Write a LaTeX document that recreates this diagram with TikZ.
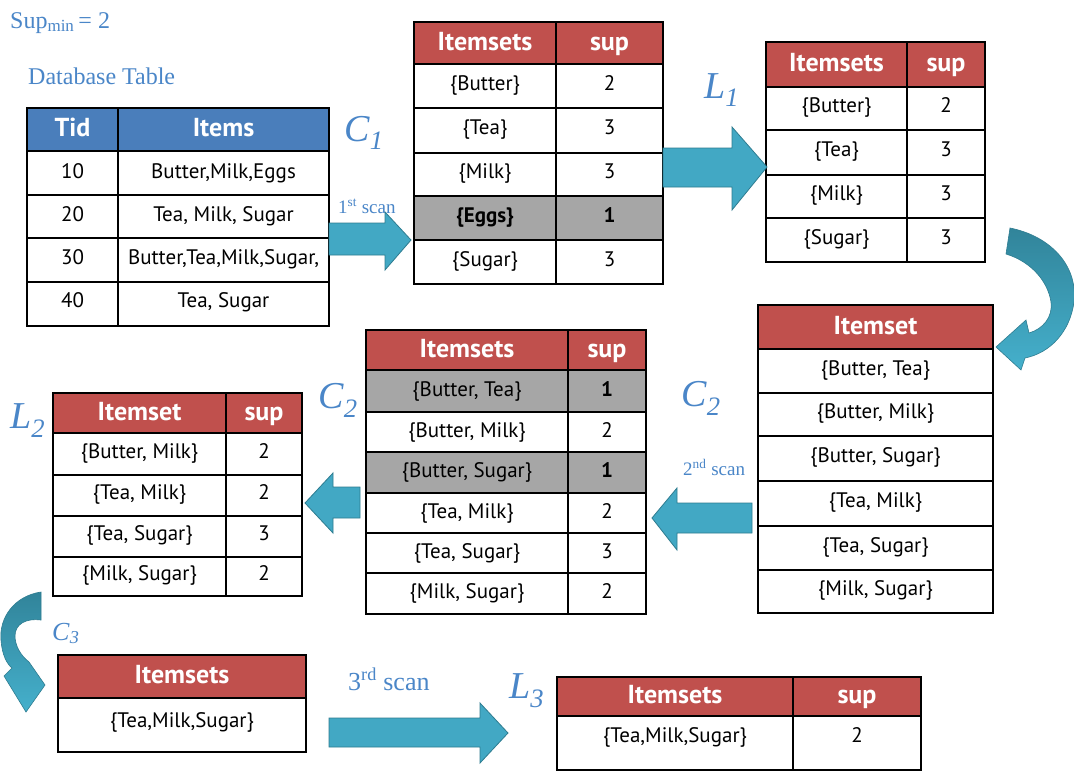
\documentclass[tikz,border=0pt]{standalone}
\usepackage{fontspec}
\setmainfont{Liberation Serif}
\newfontfamily\bodyf{PT Sans}
\definecolor{hdred}{HTML}{C0504D}
\definecolor{hdblue}{HTML}{4A7EBB}
\definecolor{rowgray}{HTML}{A6A6A6}
\definecolor{lblblue}{HTML}{4A86C8}
\definecolor{arrfill}{HTML}{42A8C4}
\definecolor{arrline}{HTML}{2E7C90}
\definecolor{arrdark}{HTML}{31849A}
\definecolor{arrlight}{HTML}{45B0CC}
\newcommand\tcell[8]{%
  \node[#6, anchor=north west, minimum width={(#4-#2)*1pt}, minimum height={(#5-#3)*1pt}] (#1) at (#2,#3) {\raisebox{#7}{#8}};}
\tikzset{
  cellbase/.style={draw=black, line width=1.1pt, inner sep=0pt, outer sep=0pt},
  bodyc/.style={cellbase, fill=white, font=\bodyf\fontsize{21}{24}\selectfont, text height=15pt, text depth=5pt},
  grayc/.style={cellbase, fill=rowgray, font=\bodyf\fontsize{21}{24}\selectfont, text height=15pt, text depth=5pt},
  redhd/.style={cellbase, fill=hdred, text=white, font=\bodyf\bfseries\fontsize{26}{30}\selectfont, text height=19pt, text depth=5pt},
  bluehd/.style={cellbase, fill=hdblue, text=white, font=\bodyf\bfseries\fontsize{26}{30}\selectfont, text height=19pt, text depth=5pt},
  outerb/.style={draw=black, line width=2.4pt},
  lbl/.style={text=lblblue, inner sep=0pt, anchor=base west},
  blockarrow/.style={fill=arrfill, draw=arrline, line width=0.8pt, line join=miter},
  curvearrow/.style={top color=arrdark, bottom color=arrlight, draw=arrline, line width=0.6pt}
}
\begin{document}
\begin{tikzpicture}[x=1pt,y=-1pt]
\useasboundingbox[fill=white] (0,0) rectangle (1074,774);

% titles
\node[lbl, font=\fontsize{24}{26}\selectfont] (supmin) at (10,28) {Sup\textsubscript{\fontsize{17}{17}\selectfont min}\,= 2};
\node[lbl, font=\fontsize{24}{26}\selectfont] (dbtitle) at (28,84) {Database Table};

% Database table
\tcell{dbh1}{27}{108}{118}{151}{bluehd}{0pt}{Tid}
\tcell{dbh2}{118}{108}{329}{151}{bluehd}{0pt}{Items}
\tcell{dba1}{27}{151}{118}{195}{bodyc}{0pt}{10}
\tcell{dbb1}{118}{151}{329}{195}{bodyc}{0pt}{Butter,Milk,Eggs}
\tcell{dba2}{27}{195}{118}{238}{bodyc}{0pt}{20}
\tcell{dbb2}{118}{195}{329}{238}{bodyc}{0pt}{Tea, Milk, Sugar}
\tcell{dba3}{27}{238}{118}{282}{bodyc}{1pt}{30}
\tcell{dbb3}{118}{238}{329}{282}{bodyc}{1pt}{Butter,Tea,Milk,Sugar,}
\tcell{dba4}{27}{282}{118}{326}{bodyc}{2pt}{40}
\tcell{dbb4}{118}{282}{329}{326}{bodyc}{2pt}{Tea, Sugar}
\draw[outerb] (dbh1.north west) rectangle (dbb4.south east);

% C1 table
\tcell{c1h1}{414}{22}{556}{64}{redhd}{0pt}{Itemsets}
\tcell{c1h2}{556}{22}{663}{64}{redhd}{0pt}{sup}
\tcell{c1a1}{414}{64}{556}{108}{bodyc}{1pt}{\{Butter\}}
\tcell{c1b1}{556}{64}{663}{108}{bodyc}{1pt}{2}
\tcell{c1a2}{414}{108}{556}{153}{bodyc}{1pt}{\{Tea\}}
\tcell{c1b2}{556}{108}{663}{153}{bodyc}{1pt}{3}
\tcell{c1a3}{414}{153}{556}{196}{bodyc}{1pt}{\{Milk\}}
\tcell{c1b3}{556}{153}{663}{196}{bodyc}{1pt}{3}
\tcell{c1a4}{414}{196}{556}{240}{grayc}{1pt}{\textbf{\{Eggs\}}}
\tcell{c1b4}{556}{196}{663}{240}{grayc}{1pt}{\textbf{1}}
\tcell{c1a5}{414}{240}{556}{284}{bodyc}{1pt}{\{Sugar\}}
\tcell{c1b5}{556}{240}{663}{284}{bodyc}{1pt}{3}
\draw[outerb] (c1h1.north west) rectangle (c1b5.south east);

% L1 table
\tcell{l1h1}{766}{42}{907}{87}{redhd}{0pt}{Itemsets}
\tcell{l1h2}{907}{42}{985}{87}{redhd}{0pt}{sup}
\tcell{l1a1}{766}{87}{907}{130}{bodyc}{1pt}{\{Butter\}}
\tcell{l1b1}{907}{87}{985}{130}{bodyc}{1pt}{2}
\tcell{l1a2}{766}{130}{907}{175}{bodyc}{1pt}{\{Tea\}}
\tcell{l1b2}{907}{130}{985}{175}{bodyc}{1pt}{3}
\tcell{l1a3}{766}{175}{907}{218}{bodyc}{1pt}{\{Milk\}}
\tcell{l1b3}{907}{175}{985}{218}{bodyc}{1pt}{3}
\tcell{l1a4}{766}{218}{907}{262}{bodyc}{1pt}{\{Sugar\}}
\tcell{l1b4}{907}{218}{985}{262}{bodyc}{1pt}{3}
\draw[outerb] (l1h1.north west) rectangle (l1b4.south east);

% C2 right table
\tcell{crh}{758}{305}{993}{349}{redhd}{0pt}{Itemset}
\tcell{cr1}{758}{349}{993}{393}{bodyc}{1pt}{\{Butter, Tea\}}
\tcell{cr2}{758}{393}{993}{436}{bodyc}{1pt}{\{Butter, Milk\}}
\tcell{cr3}{758}{436}{993}{481}{bodyc}{1pt}{\{Butter, Sugar\}}
\tcell{cr4}{758}{481}{993}{526}{bodyc}{1pt}{\{Tea, Milk\}}
\tcell{cr5}{758}{526}{993}{570}{bodyc}{1pt}{\{Tea, Sugar\}}
\tcell{cr6}{758}{570}{993}{613}{bodyc}{1pt}{\{Milk, Sugar\}}
\draw[outerb] (crh.north west) rectangle (cr6.south east);

% C2 middle table
\tcell{cmh1}{366}{330}{568}{370}{redhd}{0pt}{Itemsets}
\tcell{cmh2}{568}{330}{646}{370}{redhd}{0pt}{sup}
\tcell{cma1}{366}{370}{568}{412}{grayc}{0pt}{\{Butter, Tea\}}
\tcell{cmb1}{568}{370}{646}{412}{grayc}{0pt}{\textbf{1}}
\tcell{cma2}{366}{412}{568}{452}{bodyc}{0pt}{\{Butter, Milk\}}
\tcell{cmb2}{568}{412}{646}{452}{bodyc}{0pt}{2}
\tcell{cma3}{366}{452}{568}{493}{grayc}{0pt}{\{Butter, Sugar\}}
\tcell{cmb3}{568}{452}{646}{493}{grayc}{0pt}{\textbf{1}}
\tcell{cma4}{366}{493}{568}{533}{bodyc}{0pt}{\{Tea, Milk\}}
\tcell{cmb4}{568}{493}{646}{533}{bodyc}{0pt}{2}
\tcell{cma5}{366}{533}{568}{573}{bodyc}{0pt}{\{Tea, Sugar\}}
\tcell{cmb5}{568}{533}{646}{573}{bodyc}{0pt}{3}
\tcell{cma6}{366}{573}{568}{614}{bodyc}{0pt}{\{Milk, Sugar\}}
\tcell{cmb6}{568}{573}{646}{614}{bodyc}{0pt}{2}
\draw[outerb] (cmh1.north west) rectangle (cmb6.south east);

% L2 table
\tcell{l2h1}{53}{393}{226}{433}{redhd}{0pt}{Itemset}
\tcell{l2h2}{226}{393}{302}{433}{redhd}{0pt}{sup}
\tcell{l2a1}{53}{433}{226}{475}{bodyc}{1pt}{\{Butter, Milk\}}
\tcell{l2b1}{226}{433}{302}{475}{bodyc}{1pt}{2}
\tcell{l2a2}{53}{475}{226}{516}{bodyc}{1pt}{\{Tea, Milk\}}
\tcell{l2b2}{226}{475}{302}{516}{bodyc}{1pt}{2}
\tcell{l2a3}{53}{516}{226}{557}{bodyc}{1pt}{\{Tea, Sugar\}}
\tcell{l2b3}{226}{516}{302}{557}{bodyc}{1pt}{3}
\tcell{l2a4}{53}{557}{226}{596}{bodyc}{1pt}{\{Milk, Sugar\}}
\tcell{l2b4}{226}{557}{302}{596}{bodyc}{1pt}{2}
\draw[outerb] (l2h1.north west) rectangle (l2b4.south east);

% C3 table
\tcell{c3h}{58}{655}{306}{698}{redhd}{0pt}{Itemsets}
\tcell{c3a}{58}{698}{306}{752}{bodyc}{3pt}{\{Tea,Milk,Sugar\}}
\draw[outerb] (c3h.north west) rectangle (c3a.south east);

% L3 table
\tcell{l3h1}{557}{677}{793}{716}{redhd}{0pt}{Itemsets}
\tcell{l3h2}{793}{677}{921}{716}{redhd}{0pt}{sup}
\tcell{l3a}{557}{716}{793}{770}{bodyc}{6pt}{\{Tea,Milk,Sugar\}}
\tcell{l3b}{793}{716}{921}{770}{bodyc}{6pt}{2}
\draw[outerb] (l3h1.north west) rectangle (l3b.south east);

% set labels
\node[lbl, font=\fontsize{38}{40}\selectfont] (labC1) at (344,141) {\textit{C}\textsubscript{\textit{1}}};
\node[lbl, font=\fontsize{38}{40}\selectfont] (labL1) at (704,98) {\textit{L}\textsubscript{\textit{1}}};
\node[lbl, font=\fontsize{38}{40}\selectfont] (labC2m) at (318,408) {\textit{C}\textsubscript{\textit{2}}};
\node[lbl, font=\fontsize{38}{40}\selectfont] (labC2r) at (681,406) {\textit{C}\textsubscript{\textit{2}}};
\node[lbl, font=\fontsize{38}{40}\selectfont] (labL2) at (10,428) {\textit{L}\textsubscript{\textit{2}}};
\node[lbl, font=\fontsize{38}{40}\selectfont] (labL3) at (509,698) {\textit{L}\textsubscript{\textit{3}}};
\node[lbl, font=\fontsize{26}{28}\selectfont] (labC3) at (52,640) {\textit{C}\textsubscript{\textit{3}}};

% scan labels
\node[lbl, font=\fontsize{19}{21}\selectfont] (scan1) at (338,213) {1\textsuperscript{st} scan};
\node[lbl, font=\fontsize{19}{21}\selectfont] (scan2) at (683,475) {2\textsuperscript{nd} scan};
\node[lbl, font=\fontsize{26}{28}\selectfont] (scan3) at (348,690) {3\textsuperscript{rd} scan};

% block arrows
\draw[blockarrow] (329,223) -- (385,223) -- (385,212) -- (411,240) -- (385,270) -- (385,255) -- (329,255) -- cycle;
\draw[blockarrow] (663,148) -- (732,148) -- (732,127) -- (767,167) -- (732,210) -- (732,187) -- (663,187) -- cycle;
\draw[blockarrow] (752,503) -- (677,503) -- (677,488) -- (652,518) -- (677,550) -- (677,533) -- (752,533) -- cycle;
\draw[blockarrow] (360,487) -- (333,487) -- (333,473) -- (305,503) -- (333,533) -- (333,518) -- (360,518) -- cycle;
\draw[blockarrow] (329,718) -- (480,718) -- (480,703) -- (508,733) -- (480,763) -- (480,747) -- (329,747) -- cycle;

% curved arrows
\shade[curvearrow] (1010,228) .. controls (1050,236) and (1078,265) .. (1074,302)
  .. controls (1070,332) and (1050,353) .. (1025,358) -- (1021,370) -- (996,347) -- (1026,320) -- (1029,333)
  .. controls (1043,329) and (1053,317) .. (1051,302) .. controls (1048,282) and (1032,262) .. (1006,254) -- cycle;
\shade[curvearrow] (41,592) .. controls (14,596) and (-1,618) .. (1,640) .. controls (2,655) and (7,664) .. (12,668)
  -- (4,676) -- (26,712) -- (45,685) -- (29,662) .. controls (20,655) and (15,645) .. (15,636)
  .. controls (15,624) and (26,618) .. (41,620) -- cycle;
\end{tikzpicture}
\end{document}
